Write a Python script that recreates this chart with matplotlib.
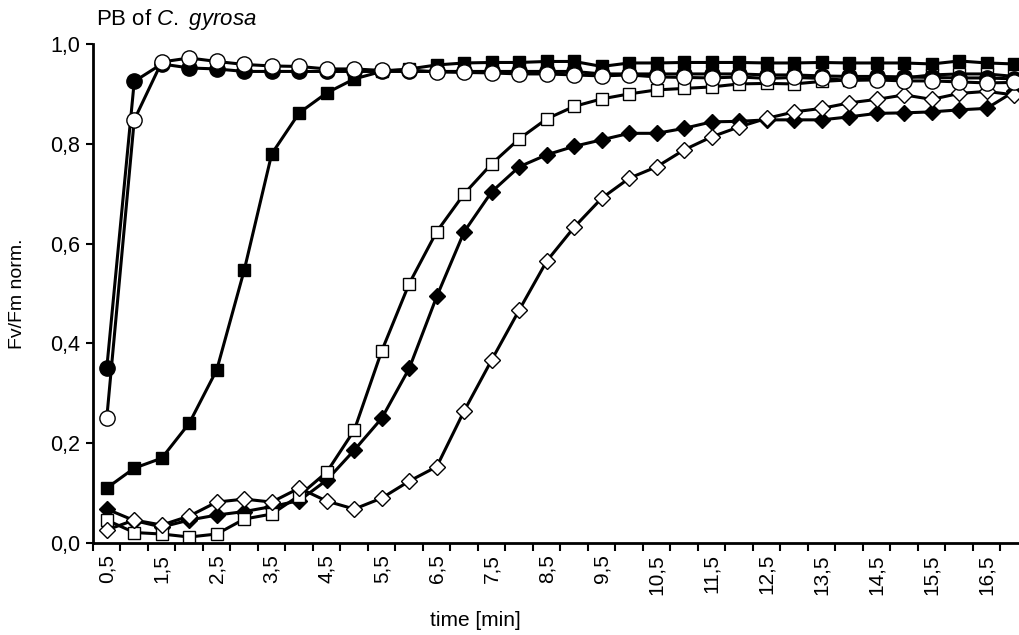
import matplotlib
matplotlib.use("Agg")
import matplotlib.pyplot as plt

plt.rcParams["font.family"] = ["Liberation Sans", "DejaVu Sans"]
plt.rcParams["mathtext.fontset"] = "custom"
plt.rcParams["mathtext.rm"] = "Liberation Sans"
plt.rcParams["mathtext.it"] = "Liberation Sans:italic"

# time points (min), one every 0.5 min
time_min = [0.5, 1.0, 1.5, 2.0, 2.5, 3.0, 3.5, 4.0, 4.5, 5.0, 5.5, 6.0,
            6.5, 7.0, 7.5, 8.0, 8.5, 9.0, 9.5, 10.0, 10.5, 11.0, 11.5, 12.0,
            12.5, 13.0, 13.5, 14.0, 14.5, 15.0, 15.5, 16.0, 16.5, 17.0]

filled_circle = [0.35, 0.925, 0.96, 0.952, 0.95, 0.945, 0.945, 0.945, 0.945, 0.945,
                 0.945, 0.945, 0.945, 0.945, 0.945, 0.945, 0.945, 0.945, 0.94, 0.94,
                 0.94, 0.94, 0.94, 0.94, 0.938, 0.938, 0.936, 0.935, 0.935, 0.934,
                 0.933, 0.932, 0.932, 0.93]
open_circle = [0.25, 0.848, 0.964, 0.972, 0.965, 0.959, 0.956, 0.955, 0.95, 0.95,
               0.947, 0.948, 0.944, 0.943, 0.942, 0.94, 0.94, 0.938, 0.936, 0.938,
               0.934, 0.933, 0.932, 0.934, 0.931, 0.933, 0.931, 0.927, 0.928, 0.926,
               0.926, 0.924, 0.922, 0.923]
filled_square = [0.11, 0.15, 0.17, 0.24, 0.347, 0.547, 0.78, 0.862, 0.902, 0.93,
                 0.945, 0.95, 0.958, 0.962, 0.963, 0.963, 0.965, 0.965, 0.955, 0.962,
                 0.962, 0.963, 0.963, 0.963, 0.962, 0.962, 0.963, 0.962, 0.962, 0.962,
                 0.96, 0.966, 0.962, 0.96]
open_square = [0.046, 0.021, 0.018, 0.012, 0.018, 0.048, 0.058, 0.095, 0.142, 0.226,
               0.385, 0.52, 0.624, 0.70, 0.76, 0.81, 0.85, 0.875, 0.89, 0.90,
               0.908, 0.911, 0.914, 0.92, 0.921, 0.92, 0.925, 0.928, 0.93, 0.932,
               0.938, 0.94, 0.94, 0.935]
filled_diamond = [0.068, 0.045, 0.032, 0.046, 0.056, 0.063, 0.073, 0.085, 0.126, 0.186,
                  0.25, 0.35, 0.494, 0.624, 0.704, 0.754, 0.778, 0.795, 0.808, 0.821,
                  0.821, 0.831, 0.844, 0.845, 0.848, 0.848, 0.848, 0.854, 0.861, 0.862,
                  0.864, 0.868, 0.871, 0.905]
open_diamond = [0.026, 0.046, 0.036, 0.054, 0.082, 0.088, 0.082, 0.11, 0.084, 0.068,
                0.09, 0.124, 0.153, 0.265, 0.367, 0.467, 0.565, 0.633, 0.691, 0.731,
                0.754, 0.788, 0.814, 0.834, 0.851, 0.864, 0.871, 0.882, 0.889, 0.898,
                0.889, 0.901, 0.905, 0.898]

x_label_pos = [0.5, 1.5, 2.5, 3.5, 4.5, 5.5, 6.5, 7.5, 8.5, 9.5, 10.5, 11.5,
               12.5, 13.5, 14.5, 15.5, 16.5]
x_labels = ["0,5", "1,5", "2,5", "3,5", "4,5", "5,5", "6,5", "7,5", "8,5", "9,5",
            "10,5", "11,5", "12,5", "13,5", "14,5", "15,5", "16,5"]
y_ticks = [0.0, 0.2, 0.4, 0.6, 0.8, 1.0]
y_labels = ["0,0", "0,2", "0,4", "0,6", "0,8", "1,0"]

fig = plt.figure(figsize=(10.2, 6.35), dpi=100)
ax = fig.add_axes([93 / 1020, 92 / 635, 927 / 1020, 499 / 635])

line_kw = dict(color="black", linewidth=2.2, markeredgecolor="black",
               markeredgewidth=1.0, clip_on=False)
ax.plot(time_min, filled_square, marker="s", markersize=9, markerfacecolor="black", **line_kw)
ax.plot(time_min, filled_diamond, marker="D", markersize=8, markerfacecolor="black", **line_kw)
ax.plot(time_min, open_square, marker="s", markersize=9, markerfacecolor="white", **line_kw)
ax.plot(time_min, open_diamond, marker="D", markersize=8, markerfacecolor="white", **line_kw)
ax.plot(time_min, filled_circle, marker="o", markersize=11, markerfacecolor="black", **line_kw)
ax.plot(time_min, open_circle, marker="o", markersize=11, markerfacecolor="white", **line_kw)

ax.set_xlim(0.25, 0.25 + 927 / 55)
ax.set_ylim(0, 1.0)

# category-style axis: tick marks between points, labels at every other point
boundaries = [t - 0.25 for t in time_min]
ax.set_xticks(boundaries)
ax.set_xticklabels([])
ax.tick_params(axis="x", which="major", direction="out", length=6, width=1.5)
ax.set_xticks(x_label_pos, minor=True)
ax.set_xticklabels(x_labels, minor=True, rotation=90, fontsize=15)
ax.tick_params(axis="x", which="minor", length=0, pad=8)

ax.set_yticks(y_ticks)
ax.set_yticklabels(y_labels, fontsize=15.5)
ax.tick_params(axis="y", direction="out", length=5, width=1.5, pad=4)

for side in ["top", "right"]:
    ax.spines[side].set_visible(False)
for side in ["left", "bottom"]:
    ax.spines[side].set_linewidth(2)

ax.set_xlabel("time [min]", fontsize=15)
ax.xaxis.set_label_coords((475 - 93) / 927, -0.137)
ax.set_ylabel("Fv/Fm norm.", fontsize=14)
ax.yaxis.set_label_coords(-0.072, 0.5)

fig.text(96 / 1020, 1 - 20 / 635, r"PB of $\it{C.}$ $\it{gyrosa}$", fontsize=16,
         ha="left", va="center")

fig.savefig("out.png", dpi=100)
